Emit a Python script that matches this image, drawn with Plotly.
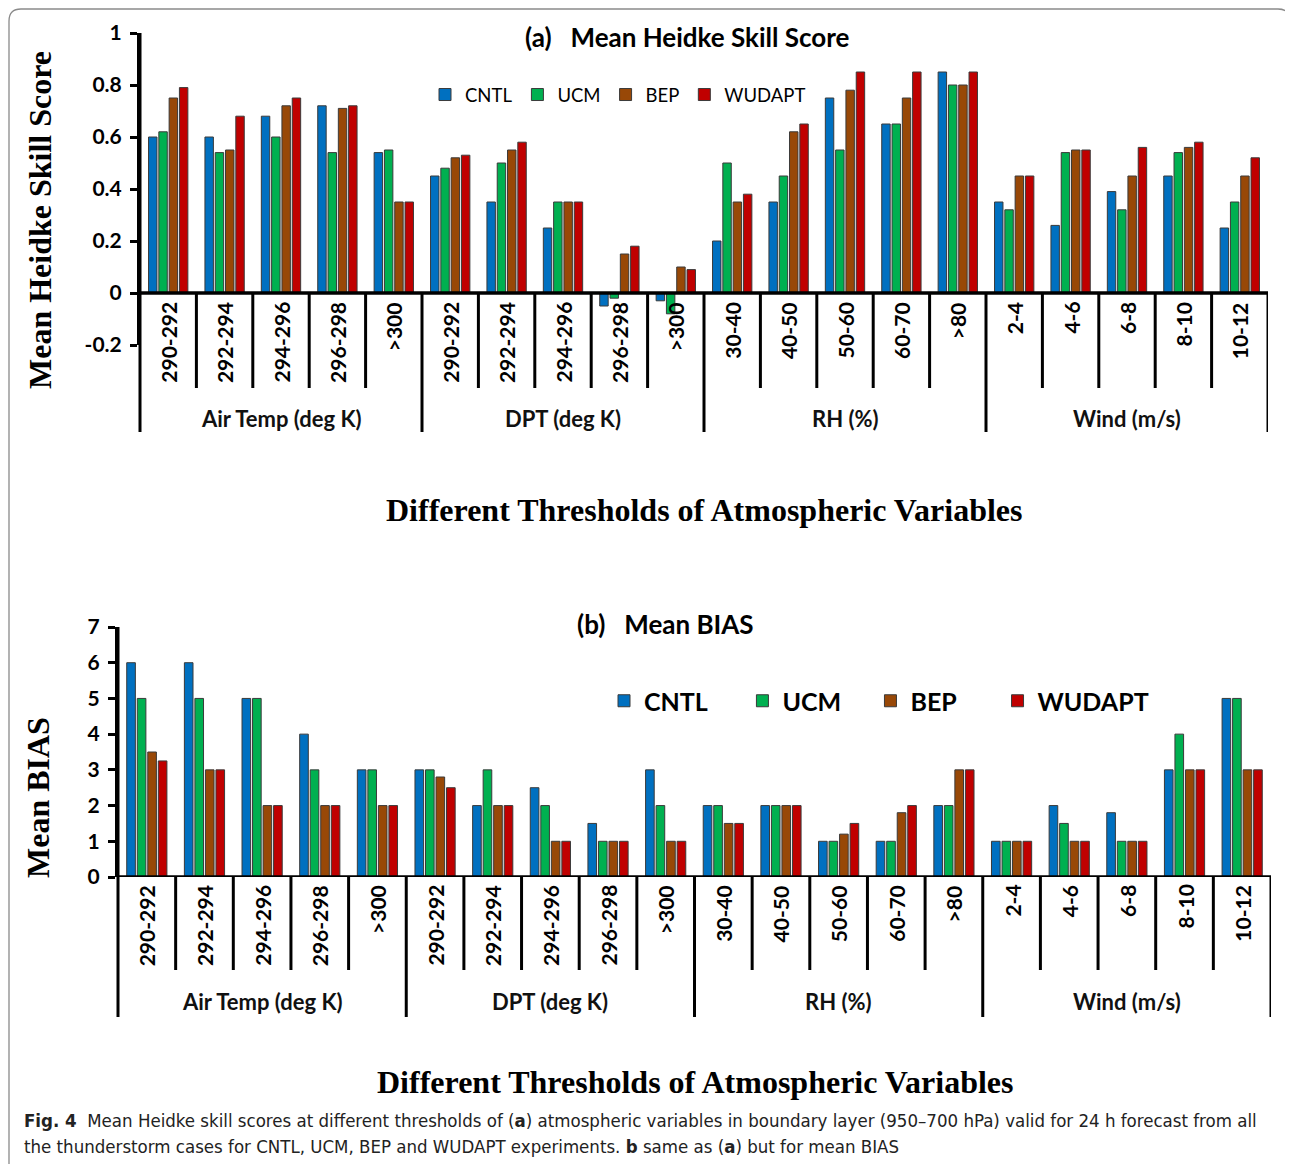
import plotly.graph_objects as go

# page body has an 8px margin, so the figure is sized to fill the rest of the window
OFF = 8
W, H = 1293 - OFF, 1164 - OFF

# ---------------- data ----------------
groups = ["Air Temp (deg K)", "DPT (deg K)", "RH (%)", "Wind (m/s)"]
group_cats = [
    ["290-292", "292-294", "294-296", "296-298", ">300"],
    ["290-292", "292-294", "294-296", "296-298", ">300"],
    ["30-40", "40-50", "50-60", "60-70", ">80"],
    ["2-4", "4-6", "6-8", "8-10", "10-12"],
]
series = ["CNTL", "UCM", "BEP", "WUDAPT"]
colors = ["#0070C0", "#00B050", "#984807", "#C00000"]

hss_cntl = [0.60, 0.60, 0.68, 0.72, 0.54, 0.45, 0.35, 0.25, -0.05, -0.03,
            0.20, 0.35, 0.75, 0.65, 0.85, 0.35, 0.26, 0.39, 0.45, 0.25]
hss_ucm = [0.62, 0.54, 0.60, 0.54, 0.55, 0.48, 0.50, 0.35, -0.02, -0.08,
           0.50, 0.45, 0.55, 0.65, 0.80, 0.32, 0.54, 0.32, 0.54, 0.35]
hss_bep = [0.75, 0.55, 0.72, 0.71, 0.35, 0.52, 0.55, 0.35, 0.15, 0.10,
           0.35, 0.62, 0.78, 0.75, 0.80, 0.45, 0.55, 0.45, 0.56, 0.45]
hss_wudapt = [0.79, 0.68, 0.75, 0.72, 0.35, 0.53, 0.58, 0.35, 0.18, 0.09,
              0.38, 0.65, 0.85, 0.85, 0.85, 0.45, 0.55, 0.56, 0.58, 0.52]

bias_cntl = [6, 6, 5, 4, 3, 3, 2, 2.5, 1.5, 3,
             2, 2, 1, 1, 2, 1, 2, 1.8, 3, 5]
bias_ucm = [5, 5, 5, 3, 3, 3, 3, 2, 1, 2,
            2, 2, 1, 1, 2, 1, 1.5, 1, 4, 5]
bias_bep = [3.5, 3, 2, 2, 2, 2.8, 2, 1, 1, 1,
            1.5, 2, 1.2, 1.8, 3, 1, 1, 1, 3, 3]
bias_wudapt = [3.25, 3, 2, 2, 2, 2.5, 2, 1, 1, 1,
               1.5, 2, 1.5, 2, 3, 1, 1, 1, 3, 3]

hss_ticks = [-0.2, 0, 0.2, 0.4, 0.6, 0.8, 1]
hss_ticktext = ["-0.2", "0", "0.2", "0.4", "0.6", "0.8", "1"]
bias_ticks = [0, 1, 2, 3, 4, 5, 6, 7]

title_a = "(a)\u00a0\u00a0\u00a0Mean Heidke Skill Score"
title_b = "(b)\u00a0\u00a0\u00a0Mean BIAS"
ytitle_a = "Mean Heidke Skill Score"
ytitle_b = "Mean BIAS"
xtitle = "Different Thresholds of Atmospheric Variables"
caption1 = ("<b>Fig. 4</b>\u00a0\u00a0Mean Heidke skill scores at different thresholds of (<b>a</b>) "
            "atmospheric variables in boundary layer (950–700 hPa) valid for 24 h forecast from all")
caption2 = ("the thunderstorm cases for CNTL, UCM, BEP and WUDAPT experiments. "
            "<b>b</b> same as (<b>a</b>) but for mean BIAS")

# ---------------- helpers (screen pixel -> paper fraction) ----------------
def X(px):
    return (px - OFF) / W


def Y(py):
    return 1 - (py - OFF) / H


cats = [c for g in group_cats for c in g]
xidx = list(range(len(cats)))
sizes = [len(g) for g in group_cats]

SANS = "Lato, 'Open Sans', sans-serif"
SERIF = "'Liberation Serif', 'DejaVu Serif', serif"

fig = go.Figure()

# padding after legend names in panel (b) to spread its entries like the original
pad_b = [5, 4, 6, 0]

hss = [hss_cntl, hss_ucm, hss_bep, hss_wudapt]
bias = [bias_cntl, bias_ucm, bias_bep, bias_wudapt]
for name, col, vals in zip(series, colors, hss):
    fig.add_trace(go.Bar(x=xidx, y=vals, name=name, marker=dict(color=col, line=dict(color="#3a3a3a", width=1)),
                         xaxis="x", yaxis="y", legend="legend"))
for name, col, vals, pb in zip(series, colors, bias, pad_b):
    fig.add_trace(go.Bar(x=xidx, y=vals, name=name + "\u00a0" * pb,
                         marker=dict(color=col, line=dict(color="#3a3a3a", width=1)),
                         xaxis="x2", yaxis="y2", legend="legend2"))

# panel geometry (screen pixels)
panels = [
    dict(xl=140, xr=1268, ytop=33, ybot=345, yr=[-0.2, 1], zero_py=293, inner_end=388, group_end=432,
         label_top=300, group_py=418, xtitle_py=510, ytitle=(40, 220), title=(687, 37),
         xa="xaxis", ya="yaxis", xr_ref="x", yr_ref="y"),
    dict(xl=118, xr=1271, ytop=627, ybot=877, yr=[0, 7], zero_py=877, inner_end=970, group_end=1017,
         label_top=883, group_py=1001, xtitle_py=1082, ytitle=(38, 798), title=(665, 624),
         xa="xaxis2", ya="yaxis2", xr_ref="x2", yr_ref="y2"),
]

shapes = []
annotations = []
n = len(cats)
for k, p in enumerate(panels):
    fig.layout[p["xa"]] = dict(domain=[X(p["xl"]), X(p["xr"])], range=[-0.5, n - 0.5], showticklabels=False,
                               showgrid=False, zeroline=False, showline=False, ticks="",
                               anchor=p["yr_ref"], fixedrange=True, automargin=False)
    ydict = dict(domain=[Y(p["ybot"]), Y(p["ytop"])], range=p["yr"], showgrid=False, zeroline=False,
                 showline=True, linecolor="black", linewidth=3, ticks="outside", ticklen=7, tickwidth=3,
                 tickcolor="black", anchor=p["xr_ref"], automargin=False, ticklabelstandoff=4,
                 tickfont=dict(family=SANS, size=21, color="black", weight="bold"), fixedrange=True)
    if k == 0:
        ydict.update(tickvals=hss_ticks, ticktext=hss_ticktext)
    else:
        ydict.update(tickvals=bias_ticks)
    fig.layout[p["ya"]] = ydict

    # left axis line extended through the category area
    shapes.append(dict(type="line", xref="paper", yref="paper", x0=X(p["xl"]), x1=X(p["xl"]),
                       y0=Y(p["ytop"]), y1=Y(p["group_end"]), line=dict(color="black", width=3)))
    # zero line / category axis
    shapes.append(dict(type="line", xref=p["xr_ref"], yref=p["yr_ref"], x0=-0.5, x1=n - 0.5, y0=0, y1=0,
                       line=dict(color="black", width=3.5)))
    # separators
    bounds = set()
    s = 0
    for sz in sizes:
        s += sz
        bounds.add(s)
    for j in range(1, n + 1):
        end = p["group_end"] if j in bounds else p["inner_end"]
        shapes.append(dict(type="line", xref=p["xr_ref"], yref="paper", x0=j - 0.5, x1=j - 0.5,
                           y0=Y(p["zero_py"]), y1=Y(end), line=dict(color="black", width=3)))
    # category labels
    for i, c in enumerate(cats):
        annotations.append(dict(x=i, y=Y(p["label_top"]), xref=p["xr_ref"], yref="paper", text=c,
                                textangle=-90, xanchor="center", yanchor="top", showarrow=False,
                                font=dict(family=SANS, size=21, color="black", weight="bold")))
    # group labels
    s = 0
    for g, sz in zip(groups, sizes):
        annotations.append(dict(x=s + (sz - 1) / 2, y=Y(p["group_py"]), xref=p["xr_ref"], yref="paper", text=g,
                                xanchor="center", yanchor="middle", showarrow=False,
                                font=dict(family=SANS, size=22, color="#111", weight="bold")))
        s += sz
    # x title
    annotations.append(dict(x=(X(p["xl"]) + X(p["xr"])) / 2, y=Y(p["xtitle_py"]), xref="paper", yref="paper",
                            text=f"<b>{xtitle}</b>", showarrow=False, xanchor="center", yanchor="middle",
                            font=dict(family=SERIF, size=32, color="black")))
    # y title
    annotations.append(dict(x=X(p["ytitle"][0]), y=Y(p["ytitle"][1]), xref="paper", yref="paper",
                            text=f"<b>{ytitle_a if k == 0 else ytitle_b}</b>", textangle=-90, showarrow=False,
                            xanchor="center", yanchor="middle", font=dict(family=SERIF, size=32, color="black")))
    # chart title
    annotations.append(dict(x=X(p["title"][0]), y=Y(p["title"][1]), xref="paper", yref="paper",
                            text=f"<b>{title_a if k == 0 else title_b}</b>", showarrow=False,
                            xanchor="center", yanchor="middle", font=dict(family=SANS, size=26, color="black")))

# caption
CAP = "'Liberation Sans Narrow', 'DejaVu Sans Condensed', sans-serif"
annotations.append(dict(x=X(22), y=Y(1120), xref="paper", yref="paper", text=caption1, showarrow=False,
                        xanchor="left", yanchor="middle", align="left",
                        font=dict(family=CAP, size=18.5, color="#222")))
annotations.append(dict(x=X(22), y=Y(1146), xref="paper", yref="paper", text=caption2, showarrow=False,
                        xanchor="left", yanchor="middle", align="left",
                        font=dict(family=CAP, size=18.5, color="#222")))

# outer rounded frame
r = 12
x0, x1, y0, y1 = 9, 1290, 9, 1180
path = (f"M {X(x0)},{Y(y1)} L {X(x0)},{Y(y0 + r)} Q {X(x0)},{Y(y0)} {X(x0 + r)},{Y(y0)} "
        f"L {X(x1 - r)},{Y(y0)} Q {X(x1)},{Y(y0)} {X(x1)},{Y(y0 + r)} L {X(x1)},{Y(y1)}")
shapes.append(dict(type="path", xref="paper", yref="paper", path=path, line=dict(color="#8a8a8a", width=1.3)))

fig.update_layout(
    width=W, height=H, margin=dict(l=0, r=0, t=0, b=0, pad=0, autoexpand=False),
    paper_bgcolor="white", plot_bgcolor="white",
    barmode="group", bargap=0.27, bargroupgap=0.18,
    shapes=shapes, annotations=annotations,
    legend=dict(x=X(425), y=Y(95), xanchor="left", yanchor="middle", orientation="h",
                font=dict(family=SANS, size=18.5, color="black"), bgcolor="rgba(0,0,0,0)",
                traceorder="normal", itemwidth=30),
    legend2=dict(x=X(604), y=Y(701), xanchor="left", yanchor="middle", orientation="h",
                 font=dict(family=SANS, size=25, color="black", weight="bold"), bgcolor="rgba(0,0,0,0)",
                 traceorder="normal", itemwidth=30),
    showlegend=True,
)

fig.write_html("out.html")
